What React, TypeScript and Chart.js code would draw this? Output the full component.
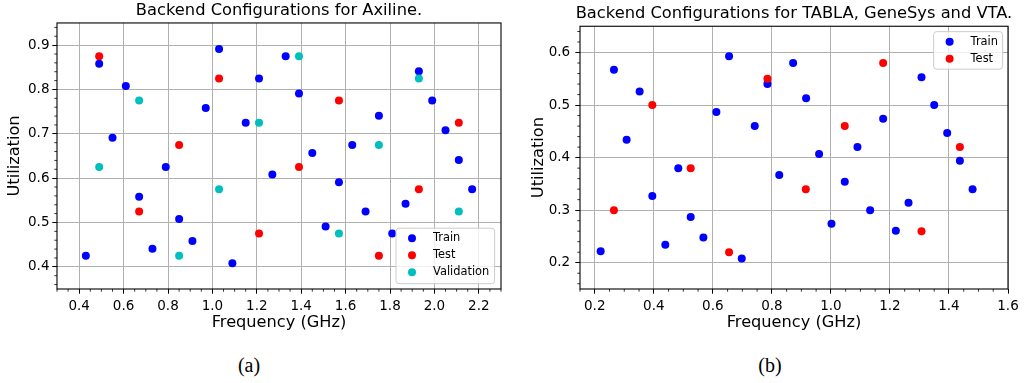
import React, { useEffect, useRef } from "react";
import { Chart, registerables } from "chart.js";

Chart.register(...registerables);

const FONT = "'DejaVu Sans', sans-serif";

// ---------- (a) Axiline ----------
const axTrainX = [0.43, 0.49, 0.55, 0.61, 0.67, 0.73, 0.79, 0.85, 0.91, 0.97, 1.03, 1.09, 1.15, 1.21, 1.27, 1.33, 1.39, 1.45, 1.51, 1.57, 1.63, 1.69, 1.75, 1.81, 1.87, 1.93, 1.99, 2.05, 2.11, 2.17];
const axTrainY = [0.425, 0.858, 0.691, 0.808, 0.558, 0.441, 0.625, 0.508, 0.458, 0.758, 0.891, 0.408, 0.725, 0.825, 0.608, 0.875, 0.791, 0.657, 0.491, 0.591, 0.675, 0.525, 0.741, 0.475, 0.542, 0.841, 0.775, 0.708, 0.641, 0.575];
const axTestX = [0.49, 0.67, 0.85, 1.03, 1.21, 1.39, 1.57, 1.75, 1.93, 2.11];
const axTestY = [0.875, 0.525, 0.675, 0.825, 0.475, 0.625, 0.775, 0.425, 0.575, 0.725];
const axValX = [0.49, 0.67, 0.85, 1.03, 1.21, 1.39, 1.57, 1.75, 1.93, 2.11];
const axValY = [0.625, 0.775, 0.425, 0.575, 0.725, 0.875, 0.475, 0.675, 0.825, 0.525];
const axXTicks = [0.4, 0.6, 0.8, 1.0, 1.2, 1.4, 1.6, 1.8, 2.0, 2.2];
const axYTicks = [0.4, 0.5, 0.6, 0.7, 0.8, 0.9];

// ---------- (b) TABLA, GeneSys and VTA ----------
const tbTrainX = [0.22, 0.265, 0.308, 0.352, 0.395, 0.439, 0.483, 0.525, 0.568, 0.612, 0.655, 0.698, 0.742, 0.785, 0.825, 0.872, 0.916, 0.96, 1.002, 1.047, 1.09, 1.133, 1.177, 1.22, 1.263, 1.307, 1.35, 1.394, 1.437, 1.48];
const tbTrainY = [0.222, 0.567, 0.434, 0.526, 0.327, 0.234, 0.38, 0.287, 0.248, 0.487, 0.593, 0.208, 0.46, 0.54, 0.367, 0.58, 0.513, 0.407, 0.274, 0.354, 0.42, 0.3, 0.474, 0.261, 0.314, 0.553, 0.5, 0.447, 0.394, 0.34];
const tbTestX = [0.265, 0.395, 0.525, 0.655, 0.785, 0.915, 1.047, 1.177, 1.307, 1.437];
const tbTestY = [0.3, 0.5, 0.38, 0.22, 0.55, 0.34, 0.46, 0.58, 0.26, 0.42];
const tbXTicks = [0.2, 0.4, 0.6, 0.8, 1.0, 1.2, 1.4, 1.6];
const tbYTicks = [0.2, 0.3, 0.4, 0.5, 0.6];

const BLUE = "#0000ff";
const RED = "#ff0000";
const CYAN = "#00bfbf";

// draws frame (all 4 spines) and minor ticks
const framePlugin = {
  id: "frameMinor",
  afterDatasetsDraw(chart: any, _a: any, o: any) {
    const { ctx, chartArea: ca } = chart;
    ctx.save();
    ctx.strokeStyle = "#000";
    ctx.lineWidth = 0.8;
    const minor = (axis: string, step: number, majors: number[]) => {
      const s = chart.scales[axis];
      const start = Math.ceil(s.min / step - 1e-6);
      for (let k = start; k * step <= s.max + 1e-6; k++) {
        const v = k * step;
        if (majors.some((m) => Math.abs(m - v) < 1e-6)) continue;
        const p = s.getPixelForValue(v);
        ctx.beginPath();
        if (axis === "x") {
          ctx.moveTo(p, ca.bottom);
          ctx.lineTo(p, ca.bottom + 2.7);
        } else {
          ctx.moveTo(ca.left, p);
          ctx.lineTo(ca.left - 2.7, p);
        }
        ctx.stroke();
      }
    };
    minor("x", o.xMinor, o.xMajors);
    minor("y", o.yMinor, o.yMajors);
    ctx.lineWidth = 1.1;
    ctx.strokeStyle = "#000";
    ctx.strokeRect(ca.left, ca.top, ca.right - ca.left, ca.bottom - ca.top);
    ctx.restore();
  },
};

// matplotlib-like legend box inside the plot area
const legendBoxPlugin = {
  id: "legendBox",
  afterDraw(chart: any, _a: any, o: any) {
    const { ctx, chartArea: ca } = chart;
    const ds = chart.data.datasets;
    const h = o.padTop + (ds.length - 1) * o.rowGap + o.padBottom;
    const x0 = ca.right - o.marginX - o.width;
    const y0 = o.corner === "upper" ? ca.top + o.marginY : ca.bottom - o.marginY - h;
    ctx.save();
    ctx.beginPath();
    if ((ctx as any).roundRect) (ctx as any).roundRect(x0, y0, o.width, h, 3);
    else ctx.rect(x0, y0, o.width, h);
    ctx.fillStyle = "rgba(255,255,255,0.8)";
    ctx.fill();
    ctx.strokeStyle = "#cccccc";
    ctx.lineWidth = 1;
    ctx.stroke();
    ds.forEach((d: any, i: number) => {
      const cy = y0 + o.padTop + i * o.rowGap;
      ctx.beginPath();
      ctx.arc(x0 + o.markerX, cy, 4, 0, Math.PI * 2);
      ctx.fillStyle = d.backgroundColor;
      ctx.fill();
      ctx.fillStyle = "#000";
      ctx.font = `${o.fontSize}px ${FONT}`;
      ctx.textBaseline = "middle";
      ctx.textAlign = "left";
      ctx.fillText(d.label, x0 + o.textX, cy);
    });
    ctx.restore();
  },
};

// center title over the plot area (as matplotlib does)
const centerTitlePlugin = {
  id: "centerTitle",
  afterLayout(chart: any) {
    const t = chart.titleBlock;
    if (!t) return;
    const ca = chart.chartArea;
    const c = (ca.left + ca.right) / 2;
    const half = (t.right - t.left) / 2;
    t.left = c - half;
    t.right = c + half;
  },
};

type Series = { label: string; x: number[]; y: number[]; color: string };

type PanelCfg = {
  title: string;
  series: Series[];
  xMin: number;
  xMax: number;
  yMin: number;
  yMax: number;
  xTicks: number[];
  yTicks: number[];
  padRight: number;
  titleTop: number;
  yWidth: number;
  yTitlePad: number;
  yTickPad: number;
  legend: any;
};

function buildConfig(p: PanelCfg): any {
  const n = p.series.length;
  return {
    type: "scatter",
    data: {
      datasets: p.series.map((s, i) => ({
        label: s.label,
        data: s.x.map((x, j) => ({ x, y: s.y[j] })),
        backgroundColor: s.color,
        borderColor: s.color,
        borderWidth: 0,
        pointRadius: 4,
        pointHoverRadius: 4,
        order: n - i,
      })),
    },
    plugins: [framePlugin, legendBoxPlugin, centerTitlePlugin],
    options: {
      responsive: false,
      animation: false,
      devicePixelRatio: 1,
      events: [],
      layout: { padding: { left: 0, right: p.padRight, top: 0, bottom: 0 } },
      plugins: {
        legend: { display: false },
        tooltip: { enabled: false },
        title: {
          display: true,
          text: p.title,
          color: "#000",
          font: { family: FONT, size: 16.3, weight: "normal", lineHeight: 1.2 },
          padding: { top: p.titleTop, bottom: 2.7 },
        },
        frameMinor: {
          xMinor: 0.05,
          yMinor: 0.02,
          xMajors: p.xTicks,
          yMajors: p.yTicks,
        },
        legendBox: p.legend,
      },
      scales: {
        x: {
          type: "linear",
          min: p.xMin,
          max: p.xMax,
          afterFit: (s: any) => {
            s.height = 51;
          },
          afterBuildTicks: (s: any) => {
            s.ticks = p.xTicks.map((v) => ({ value: v }));
          },
          ticks: {
            autoSkip: false,
            maxRotation: 0,
            color: "#000",
            padding: 5,
            font: { family: FONT, size: 13.5 },
            callback: (v: any) => Number(v).toFixed(1),
          },
          grid: { color: "#b0b0b0", lineWidth: 1, tickColor: "#000", tickLength: 4.7, tickWidth: 1 },
          border: { display: false },
          title: {
            display: true,
            text: "Frequency (GHz)",
            color: "#000",
            font: { family: FONT, size: 16.2, lineHeight: 1.2 },
            padding: { top: 0, bottom: 7.8 },
          },
        },
        y: {
          type: "linear",
          min: p.yMin,
          max: p.yMax,
          afterFit: (s: any) => {
            s.width = p.yWidth;
          },
          afterBuildTicks: (s: any) => {
            s.ticks = p.yTicks.map((v) => ({ value: v }));
          },
          ticks: {
            autoSkip: false,
            color: "#000",
            padding: p.yTickPad,
            font: { family: FONT, size: 13.5 },
            callback: (v: any) => Number(v).toFixed(1),
          },
          grid: { color: "#b0b0b0", lineWidth: 1, tickColor: "#000", tickLength: 4.7, tickWidth: 1 },
          border: { display: false },
          title: {
            display: true,
            text: "Utilization",
            color: "#000",
            font: { family: FONT, size: 16.2, lineHeight: 1.2 },
            padding: { top: p.yTitlePad, bottom: 0 },
          },
        },
      },
    },
  };
}

const panelA: PanelCfg = {
  title: "Backend Configurations for Axiline.",
  series: [
    { label: "Train", x: axTrainX, y: axTrainY, color: BLUE },
    { label: "Test", x: axTestX, y: axTestY, color: RED },
    { label: "Validation", x: axValX, y: axValY, color: CYAN },
  ],
  xMin: 0.3,
  xMax: 2.3,
  yMin: 0.35,
  yMax: 0.95,
  xTicks: axXTicks,
  yTicks: axYTicks,
  padRight: 14,
  titleTop: 0.7,
  yWidth: 57,
  yTitlePad: 4.8,
  yTickPad: 2.8,
  legend: { corner: "lower", width: 98.6, padTop: 10, rowGap: 17, padBottom: 11.5, marginX: 6.4, marginY: 5.3, markerX: 16, textX: 37, fontSize: 11.4 },
};

const panelB: PanelCfg = {
  title: "Backend Configurations for TABLA, GeneSys and VTA.",
  series: [
    { label: "Train", x: tbTrainX, y: tbTrainY, color: BLUE },
    { label: "Test", x: tbTestX, y: tbTestY, color: RED },
  ],
  xMin: 0.15,
  xMax: 1.6,
  yMin: 0.15,
  yMax: 0.65,
  xTicks: tbXTicks,
  yTicks: tbYTicks,
  padRight: 22,
  titleTop: 4.0,
  yWidth: 65,
  yTitlePad: 14,
  yTickPad: 5.1,
  legend: { corner: "upper", width: 69, padTop: 10, rowGap: 17, padBottom: 10.5, marginX: 5.4, marginY: 5.4, markerX: 16, textX: 37, fontSize: 11.4 },
};

function Panel({ cfg, left }: { cfg: PanelCfg; left: number }) {
  const ref = useRef<HTMLCanvasElement>(null);
  useEffect(() => {
    const chart = new Chart(ref.current as HTMLCanvasElement, buildConfig(cfg));
    return () => chart.destroy();
  }, [cfg]);
  return (
    <canvas
      ref={ref}
      width={515}
      height={340}
      style={{ position: "absolute", left, top: 0, width: 515, height: 340 }}
    />
  );
}

const captionStyle: React.CSSProperties = {
  position: "absolute",
  top: 355,
  width: 100,
  textAlign: "center",
  fontFamily: "'Liberation Serif', serif",
  fontSize: 20,
  lineHeight: "20px",
  color: "#000",
};

export default function App() {
  return (
    <div
      style={{
        position: "absolute",
        left: 0,
        top: 0,
        width: 1030,
        height: 383,
        background: "#fff",
        overflow: "hidden",
      }}
    >
      <Panel cfg={panelA} left={0} />
      <Panel cfg={panelB} left={515} />
      <div style={{ ...captionStyle, left: 249 - 50 }}>(a)</div>
      <div style={{ ...captionStyle, left: 770 - 50 }}>(b)</div>
    </div>
  );
}
